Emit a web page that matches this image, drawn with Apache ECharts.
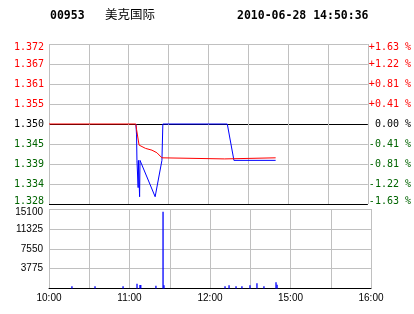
<!DOCTYPE html>
<html><head><meta charset="utf-8">
<script src="https://cdn.jsdelivr.net/npm/echarts@6/dist/echarts.min.js"></script>
<style>html,body{margin:0;padding:0;background:#fff}#c{width:414px;height:314px}</style>
</head><body><div id="c"></div>
<script>
const stockCode = '00953';
const stockName = '美克国际';
const stamp = '2010-06-28 14:50:36';

const priceMin = 1.328, priceMax = 1.372, priceStep = 0.0055;
const priceLabels = ['1.328','1.334','1.339','1.345','1.350','1.355','1.361','1.367','1.372'];
const pctLabels = ['-1.63 %','-1.22 %','-0.81 %','-0.41 %',' 0.00 %','+0.41 %','+0.81 %','+1.22 %','+1.63 %'];

const volMax = 15100, volStep = 3775;
const volLabels = ['', '3775', '7550', '11325', '15100'];

const timeTicks = [0, 60, 120, 180, 240];
const timeLabels = ['10:00', '11:00', '12:00', '15:00', '16:00'];

// minutes since 10:00 (trading minutes), price
const priceLine = [
  [65.4, 1.350], [65.9, 1.347], [66.2, 1.340], [66.9, 1.340], [67.1, 1.3325], [67.3, 1.340],
  [68.0, 1.340], [68.2, 1.330], [68.5, 1.340], [79.9, 1.330], [80.4, 1.331],
  [85.0, 1.340], [85.7, 1.350], [134.2, 1.350], [139.2, 1.340], [170.6, 1.340]
];
const avgLine = [
  [0, 1.350], [65.4, 1.350], [65.9, 1.3485], [67.8, 1.3442], [68.9, 1.3437], [72.6, 1.3433],
  [77.5, 1.3428], [81.2, 1.3421], [85.0, 1.3407], [85.7, 1.3404], [132.2, 1.3404],
  [132.6, 1.3407], [170.6, 1.3407]
];
const volumes = [
  [17.1, 440], [34.3, 440], [55.2, 440], [65.6, 880], [67.8, 680], [68.4, 680],
  [79.7, 500], [85.0, 14600], [85.7, 630], [131.2, 440], [134.2, 630], [139.4, 440],
  [143.8, 440], [149.8, 630], [155.0, 1000], [160.2, 440], [169.2, 1190], [170.0, 700]
];

const GRAY = '#c0c0c0', RED = '#ff0000', GREEN = '#006400';
const MONO = 'DejaVu Sans Mono';
const SANS = 'Liberation Sans';

function priceRich() {
  const base = { fontFamily: MONO, fontSize: 10 };
  return {
    up: Object.assign({ color: RED }, base),
    upT: Object.assign({ color: RED, padding: [6, 0, 0, 0] }, base),
    eq: Object.assign({ color: '#000' }, base),
    dn: Object.assign({ color: GREEN }, base),
    dnB: Object.assign({ color: GREEN, padding: [0, 0, 6, 0] }, base)
  };
}
function priceFmt(labels) {
  return function (v) {
    const i = Math.round((v - priceMin) / priceStep);
    const t = labels[i];
    if (t === undefined) return '';
    const c = i > 4 ? 'up' : (i < 4 ? 'dn' : 'eq');
    const pos = i === 8 ? 'T' : (i === 0 ? 'B' : '');
    return '{' + c + pos + '|' + t + '}';
  };
}
const upperSplit = [];
for (let i = 0; i < priceLabels.length; i++) upperSplit.push(i === 0 || i === 4 ? '#000' : GRAY);

const chart = echarts.init(document.getElementById('c'), null, { renderer: 'canvas' });
chart.setOption({
  animation: false,
  backgroundColor: '#fff',
  graphic: [
    { type: 'text', left: 50, top: 10, style: { text: stockCode, font: 'bold 11.5px "DejaVu Sans Mono"', fill: '#000' } },
    { type: 'text', left: 105, top: 8, style: { text: stockName, font: '12.5px "Noto Sans CJK SC"', fill: '#000' } },
    { type: 'text', left: 237, top: 10, style: { text: stamp, font: 'bold 11.5px "DejaVu Sans Mono"', fill: '#000' } }
  ],
  grid: [
    { left: 49, top: 44, width: 322, height: 160 },
    { left: 49, top: 209, width: 322, height: 79.5 }
  ],
  xAxis: [
    {
      gridIndex: 0, type: 'value', min: 0, max: 240, interval: 30,
      axisLine: { show: false }, axisTick: { show: false }, axisLabel: { show: false },
      splitLine: { show: true, lineStyle: { color: GRAY, width: 1 } }
    },
    {
      gridIndex: 1, type: 'value', min: 0, max: 240, interval: 30,
      axisLine: { show: true, onZero: false, lineStyle: { color: '#000', width: 1 } },
      axisTick: { show: false },
      axisLabel: {
        show: true, margin: 5, fontFamily: SANS, fontSize: 10, color: '#000',
        formatter: function (v) { const i = timeTicks.indexOf(Math.round(v)); return i >= 0 ? timeLabels[i] : ''; }
      },
      splitLine: { show: true, lineStyle: { color: GRAY, width: 1 } }
    }
  ],
  yAxis: [
    {
      gridIndex: 0, type: 'value', min: priceMin, max: priceMax, interval: priceStep, position: 'left',
      axisLine: { show: false }, axisTick: { show: false },
      axisLabel: { margin: 5, formatter: priceFmt(priceLabels), rich: priceRich() },
      splitLine: { show: true, lineStyle: { color: upperSplit, width: 1 } }
    },
    {
      gridIndex: 0, type: 'value', min: priceMin, max: priceMax, interval: priceStep, position: 'right',
      axisLine: { show: false }, axisTick: { show: false },
      axisLabel: { margin: 1, formatter: priceFmt(pctLabels), rich: priceRich() },
      splitLine: { show: false }
    },
    {
      gridIndex: 1, type: 'value', min: 0, max: volMax, interval: volStep, position: 'left',
      axisLine: { show: false }, axisTick: { show: false },
      axisLabel: {
        margin: 6, fontFamily: SANS, fontSize: 10, color: '#000',
        formatter: function (v) {
          const i = Math.round(v / volStep);
          const t = volLabels[i] || '';
          if (i === volLabels.length - 1) return '{t|' + t + '}';
          return t;
        },
        rich: { t: { fontFamily: SANS, fontSize: 10, color: '#000', padding: [6, 0, 0, 0] } }
      },
      splitLine: { show: true, lineStyle: { color: ['#000', GRAY, GRAY, GRAY, GRAY], width: 1 } }
    }
  ],
  series: [
    {
      name: 'price', type: 'line', xAxisIndex: 0, yAxisIndex: 0, data: priceLine,
      showSymbol: false, symbol: 'none', lineStyle: { color: '#0000ff', width: 1 }, z: 3
    },
    {
      name: 'avg', type: 'line', xAxisIndex: 0, yAxisIndex: 0, data: avgLine,
      showSymbol: false, symbol: 'none', lineStyle: { color: RED, width: 1 }, z: 4
    },
    {
      name: 'vol', type: 'bar', xAxisIndex: 1, yAxisIndex: 2, data: volumes,
      barWidth: 1.3, itemStyle: { color: '#0000ff' }, z: 3
    }
  ]
});
</script>
</body></html>
